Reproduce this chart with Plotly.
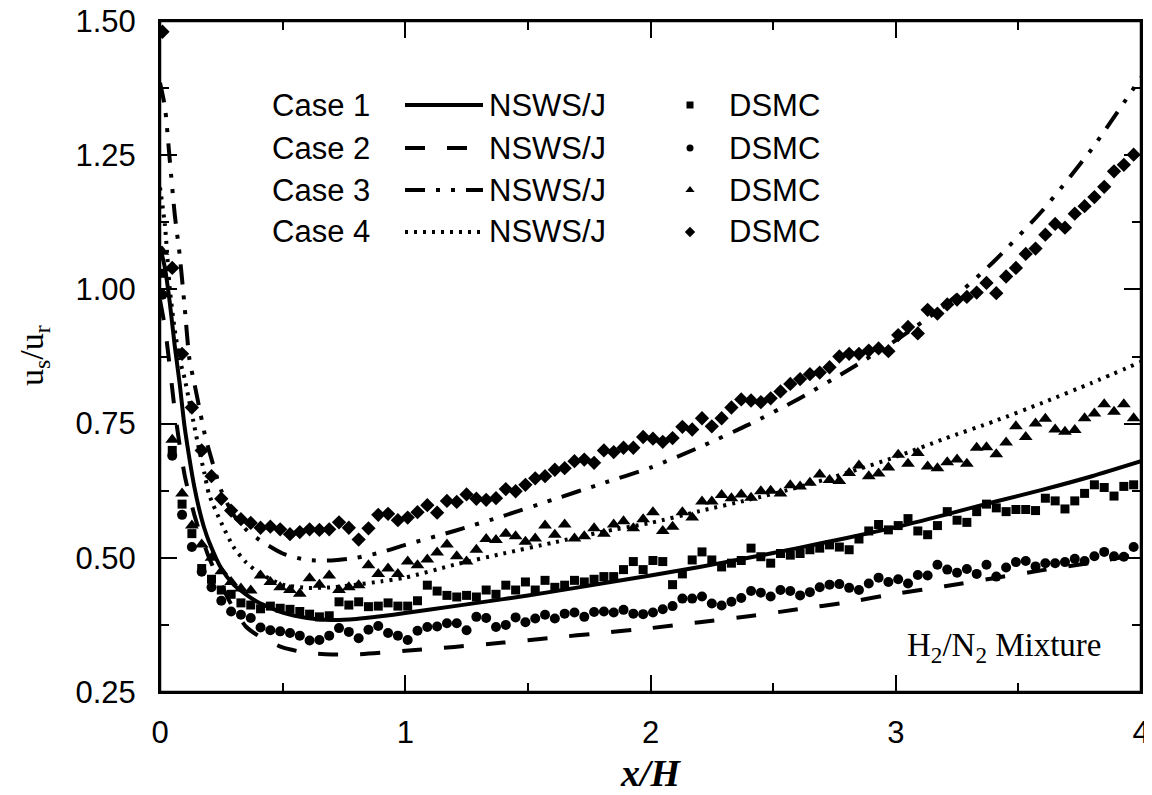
import plotly.graph_objects as go

# ---------------- data ----------------
LINE_X = [0, 0.02, 0.04, 0.06, 0.08, 0.10, 0.12, 0.14, 0.16, 0.18, 0.20, 0.25, 0.30, 0.35,
          0.40, 0.50, 0.60, 0.70, 0.80, 0.90, 1.0, 1.2, 1.4, 1.6, 1.8, 2.0, 2.2, 2.4, 2.6,
          2.8, 3.0, 3.2, 3.4, 3.6, 3.8, 4.0]

NSWS_CASE1 = [1.08, 1.04, 0.975, 0.895, 0.825, 0.745, 0.685, 0.632, 0.59, 0.556, 0.53, 0.48,
              0.45, 0.432, 0.417, 0.398, 0.388, 0.384, 0.386, 0.391, 0.397, 0.41, 0.423, 0.437,
              0.452, 0.467, 0.483, 0.50, 0.518, 0.537, 0.557, 0.58, 0.604, 0.627, 0.652, 0.68]
NSWS_CASE2 = [0.98, 0.93, 0.855, 0.775, 0.71, 0.655, 0.615, 0.58, 0.55, 0.525, 0.50, 0.45,
              0.405, 0.372, 0.355, 0.333, 0.323, 0.32, 0.32, 0.323, 0.327, 0.334, 0.342, 0.351,
              0.36, 0.369, 0.38, 0.391, 0.404, 0.417, 0.433, 0.447, 0.462, 0.477, 0.491, 0.507]
NSWS_CASE3 = [1.385, 1.34, 1.24, 1.14, 1.065, 0.97, 0.87, 0.825, 0.78, 0.735, 0.70, 0.625,
              0.58, 0.553, 0.535, 0.508, 0.496, 0.495, 0.50, 0.51, 0.524, 0.55, 0.578, 0.608,
              0.638, 0.668, 0.706, 0.748, 0.795, 0.848, 0.905, 0.97, 1.052, 1.148, 1.262, 1.395]
NSWS_CASE4 = [1.19, 1.12, 1.00, 0.925, 0.87, 0.835, 0.79, 0.745, 0.70, 0.66, 0.618, 0.565,
              0.52, 0.492, 0.473, 0.45, 0.444, 0.445, 0.45, 0.456, 0.463, 0.487, 0.508, 0.528,
              0.548, 0.565, 0.587, 0.608, 0.631, 0.658, 0.688, 0.722, 0.754, 0.789, 0.826, 0.865]

DSMC_X = [0.01, 0.05, 0.09, 0.13, 0.17, 0.21, 0.25, 0.29, 0.33, 0.37,
          0.41, 0.45, 0.49, 0.53, 0.57, 0.61, 0.65, 0.69, 0.73, 0.77,
          0.81, 0.85, 0.89, 0.93, 0.97, 1.01, 1.05, 1.09, 1.13, 1.17,
          1.21, 1.25, 1.29, 1.33, 1.37, 1.41, 1.45, 1.49, 1.53, 1.57,
          1.61, 1.65, 1.69, 1.73, 1.77, 1.81, 1.85, 1.89, 1.93, 1.97,
          2.01, 2.05, 2.09, 2.13, 2.17, 2.21, 2.25, 2.29, 2.33, 2.37,
          2.41, 2.45, 2.49, 2.53, 2.57, 2.61, 2.65, 2.69, 2.73, 2.77,
          2.81, 2.85, 2.89, 2.93, 2.97, 3.01, 3.05, 3.09, 3.13, 3.17,
          3.21, 3.25, 3.29, 3.33, 3.37, 3.41, 3.45, 3.49, 3.53, 3.57,
          3.61, 3.65, 3.69, 3.73, 3.77, 3.81, 3.85, 3.89, 3.93, 3.97]

DSMC_CASE1 = [1.03, 0.70, 0.60, 0.545, 0.48, 0.46, 0.44, 0.432, 0.416, 0.412,
              0.405, 0.41, 0.406, 0.404, 0.40, 0.395, 0.39, 0.392, 0.418, 0.412,
              0.418, 0.409, 0.41, 0.416, 0.41, 0.41, 0.42, 0.449, 0.438, 0.43,
              0.427, 0.43, 0.427, 0.44, 0.432, 0.449, 0.44, 0.455, 0.44, 0.458,
              0.445, 0.449, 0.458, 0.455, 0.46, 0.465, 0.465, 0.478, 0.493, 0.478,
              0.495, 0.493, 0.45, 0.47, 0.496, 0.511, 0.496, 0.483, 0.49, 0.495,
              0.518, 0.502, 0.49, 0.508, 0.505, 0.508, 0.515, 0.518, 0.524, 0.52,
              0.515, 0.535, 0.55, 0.562, 0.552, 0.56, 0.573, 0.55, 0.543, 0.56,
              0.586, 0.57, 0.566, 0.586, 0.60, 0.593, 0.586, 0.59, 0.59, 0.588,
              0.611, 0.606, 0.591, 0.606, 0.62, 0.636, 0.631, 0.615, 0.633, 0.636]
DSMC_CASE2 = [0.99, 0.69, 0.58, 0.52, 0.474, 0.445, 0.42, 0.40, 0.394, 0.388,
              0.37, 0.365, 0.363, 0.36, 0.355, 0.346, 0.347, 0.355, 0.369, 0.362,
              0.35, 0.366, 0.373, 0.36, 0.355, 0.347, 0.364, 0.371, 0.372, 0.378,
              0.378, 0.365, 0.39, 0.388, 0.371, 0.375, 0.389, 0.38, 0.387, 0.394,
              0.387, 0.396, 0.398, 0.39, 0.399, 0.40, 0.398, 0.403, 0.396, 0.395,
              0.398, 0.404, 0.41, 0.424, 0.424, 0.428, 0.415, 0.411, 0.418, 0.425,
              0.438, 0.435, 0.428, 0.44, 0.438, 0.43, 0.436, 0.445, 0.45, 0.451,
              0.444, 0.44, 0.452, 0.463, 0.455, 0.46, 0.452, 0.468, 0.467, 0.487,
              0.478, 0.472, 0.479, 0.47, 0.487, 0.465, 0.482, 0.492, 0.494, 0.484,
              0.49, 0.49, 0.492, 0.498, 0.494, 0.503, 0.511, 0.503, 0.502, 0.52]
DSMC_CASE3 = [1.07, 0.72, 0.62, 0.56, 0.525, 0.50, 0.475, 0.455, 0.443, 0.439,
              0.467, 0.455, 0.445, 0.44, 0.433, 0.462, 0.45, 0.467, 0.44, 0.445,
              0.449, 0.486, 0.47, 0.48, 0.47, 0.493, 0.486, 0.497, 0.51, 0.525,
              0.503, 0.493, 0.515, 0.535, 0.533, 0.545, 0.54, 0.53, 0.536, 0.56,
              0.543, 0.562, 0.536, 0.54, 0.555, 0.545, 0.562, 0.568, 0.555, 0.572,
              0.585, 0.55, 0.558, 0.585, 0.575, 0.605, 0.605, 0.617, 0.611, 0.618,
              0.612, 0.624, 0.625, 0.62, 0.635, 0.633, 0.64, 0.655, 0.645, 0.643,
              0.658, 0.672, 0.652, 0.657, 0.668, 0.692, 0.675, 0.695, 0.67, 0.667,
              0.678, 0.683, 0.675, 0.705, 0.706, 0.693, 0.715, 0.745, 0.725, 0.75,
              0.759, 0.739, 0.735, 0.738, 0.76, 0.769, 0.786, 0.772, 0.786, 0.76]
DSMC_CASE4 = [1.48, 1.04, 0.88, 0.78, 0.70, 0.652, 0.61, 0.588, 0.572, 0.565,
              0.556, 0.558, 0.553, 0.544, 0.548, 0.553, 0.552, 0.553, 0.566, 0.556,
              0.534, 0.555, 0.58, 0.582, 0.57, 0.575, 0.585, 0.598, 0.584, 0.606,
              0.604, 0.618, 0.61, 0.608, 0.611, 0.628, 0.624, 0.636, 0.648, 0.652,
              0.664, 0.667, 0.68, 0.683, 0.677, 0.70, 0.697, 0.705, 0.705, 0.725,
              0.722, 0.716, 0.723, 0.744, 0.739, 0.76, 0.745, 0.76, 0.78, 0.795,
              0.793, 0.79, 0.797, 0.81, 0.824, 0.833, 0.842, 0.845, 0.855, 0.875,
              0.88, 0.88, 0.886, 0.89, 0.885, 0.915, 0.93, 0.918, 0.962, 0.955,
              0.972, 0.981, 0.986, 0.994, 1.012, 0.993, 1.024, 1.04, 1.066, 1.076,
              1.102, 1.122, 1.115, 1.141, 1.155, 1.172, 1.191, 1.22, 1.232, 1.251]

CASE_LABELS = ["Case 1", "Case 2", "Case 3", "Case 4"]
MODEL_LABEL = "NSWS/J"
DSMC_LABEL = "DSMC"
X_TICKS = [0, 1, 2, 3, 4]
Y_TICKS = [0.25, 0.50, 0.75, 1.00, 1.25, 1.50]

# ---------------- styles ----------------
SANS = "Liberation Sans, Arial, sans-serif"
SERIF = "Liberation Serif, Times New Roman, serif"
INK = "black"
LINE_STYLES = [
    dict(color=INK, width=4, dash="solid"),
    dict(color=INK, width=4, dash="20px,22px"),
    dict(color=INK, width=4, dash="20px,11px,4px,11px,4px,11px"),
    dict(color=INK, width=4, dash="3px,6px"),
]
MARKERS = [("square", 9), ("circle", 10), ("triangle-up", 12), ("diamond", 11)]
LEG_MARKER_SIZE = [7, 7, 8, 8]

fig = go.Figure()

nsws = [NSWS_CASE1, NSWS_CASE2, NSWS_CASE3, NSWS_CASE4]
dsmc = [DSMC_CASE1, DSMC_CASE2, DSMC_CASE3, DSMC_CASE4]

for i in range(4):
    fig.add_trace(go.Scatter(x=LINE_X, y=nsws[i], mode="lines",
                             line=dict(**LINE_STYLES[i], shape="spline", smoothing=0.6),
                             showlegend=False, hoverinfo="skip"))
for i in range(4):
    sym, size = MARKERS[i]
    fig.add_trace(go.Scatter(x=DSMC_X, y=dsmc[i], mode="markers",
                             marker=dict(symbol=sym, size=size, color=INK, line=dict(width=0)),
                             showlegend=False))

# ---------------- hand-built legend (overlay axes in plot-fraction units) ----------------
# target plot box in window pixels (page body has an 8px default margin)
PAGE_OFF = 8
FIG_W, FIG_H = 1152 - PAGE_OFF, 795 - PAGE_OFF
PLOT_L, PLOT_R, PLOT_T, PLOT_B = 160, 1141, 21, 692
def fx(px):
    return (px - PLOT_L) / (PLOT_R - PLOT_L)
def fy(py):
    return (PLOT_B - py) / (PLOT_B - PLOT_T)

ROW_Y = [105, 148, 190, 232]
annotations = []
for i in range(4):
    yy = fy(ROW_Y[i])
    fig.add_trace(go.Scatter(x=[fx(405), fx(483)], y=[yy, yy], mode="lines",
                             line=LINE_STYLES[i], xaxis="x2", yaxis="y2",
                             showlegend=False, hoverinfo="skip"))
    fig.add_trace(go.Scatter(x=[fx(690)], y=[yy], mode="markers",
                             marker=dict(symbol=MARKERS[i][0], size=LEG_MARKER_SIZE[i], color=INK),
                             xaxis="x2", yaxis="y2", showlegend=False, hoverinfo="skip"))
    for txt, px in [(CASE_LABELS[i], 270), (MODEL_LABEL, 487), (DSMC_LABEL, 727)]:
        annotations.append(dict(text=txt, x=fx(px), y=yy, xref="paper", yref="paper",
                                xanchor="left", yanchor="middle", showarrow=False,
                                font=dict(family=SANS, size=31, color=INK)))

annotations.append(dict(text="H<sub>2</sub>/N<sub>2</sub> Mixture", x=fx(1104), y=fy(647),
                        xref="paper", yref="paper", xanchor="right", yanchor="middle",
                        showarrow=False, font=dict(family=SERIF, size=33, color=INK)))
annotations.append(dict(text="<b><i>x/H</i></b>", x=0.5, y=fy(773), xref="paper", yref="paper",
                        xanchor="center", yanchor="middle", showarrow=False,
                        font=dict(family=SERIF, size=38, color=INK)))
annotations.append(dict(text="u<sub>s</sub>/u<sub>r</sub>", x=fx(34), y=fy(356),
                        xref="paper", yref="paper", xanchor="center", yanchor="middle",
                        textangle=-90, showarrow=False,
                        font=dict(family=SERIF, size=34, color=INK)))

axis_common = dict(showline=True, linecolor=INK, linewidth=2, mirror="ticks",
                   ticks="inside", ticklen=17, tickwidth=2, tickcolor=INK,
                   showgrid=False, zeroline=False, automargin=False,
                   ticklabeloverflow="allow",
                   tickfont=dict(family=SANS, size=31, color=INK))

fig.update_layout(
    width=FIG_W, height=FIG_H,
    margin=dict(l=PLOT_L - PAGE_OFF, r=1152 - PLOT_R, t=PLOT_T - PAGE_OFF, b=795 - PLOT_B,
                autoexpand=False),
    paper_bgcolor="white", plot_bgcolor="white",
    showlegend=False,
    xaxis=dict(range=[0, 4], tickvals=X_TICKS, ticktext=[str(v) for v in X_TICKS],
               minor=dict(dtick=0.5, tick0=0, ticks="inside", ticklen=9, tickwidth=2,
                          tickcolor=INK),
               ticklabelstandoff=12, **axis_common),
    yaxis=dict(range=[0.25, 1.5], tickvals=Y_TICKS, ticktext=[f"{v:.2f}" for v in Y_TICKS],
               minor=dict(dtick=0.125, tick0=0.25, ticks="inside", ticklen=9, tickwidth=2,
                          tickcolor=INK),
               ticklabelstandoff=16, **axis_common),
    xaxis2=dict(overlaying="x", range=[0, 1], visible=False),
    yaxis2=dict(overlaying="y", range=[0, 1], visible=False),
    shapes=[dict(type="rect", xref="paper", yref="paper", x0=0, x1=1, y0=0, y1=1,
                 line=dict(color=INK, width=2.5), layer="above")],
    annotations=annotations,
)

fig.write_html("out.html")
